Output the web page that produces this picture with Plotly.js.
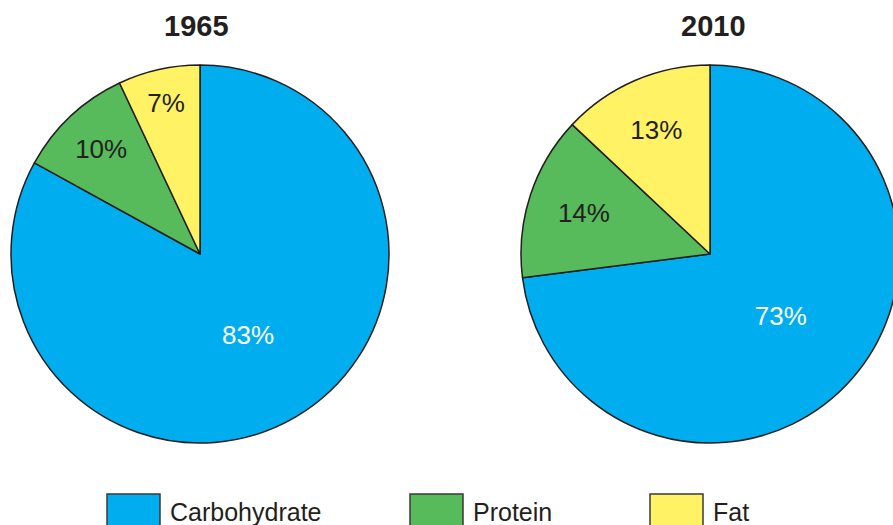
<!DOCTYPE html>
<html><head><meta charset="utf-8">
<script src="https://cdn.plot.ly/plotly-3.0.1.min.js"></script>
<style>html,body{margin:0;padding:0;overflow:hidden;background:#fff;width:893px;height:525px}</style>
</head><body><div id="chart"></div>
<script>
const categories = ['Carbohydrate', 'Protein', 'Fat'];
const years = ['1965', '2010'];
const values1965 = [83, 10, 7];
const values2010 = [73, 14, 13];
const colors = ['#00AEEF', '#57BA5B', '#FFF264'];
const textColors = ['#ffffff', '#231F20', '#231F20'];

const FONT = 'Liberation Sans, Arial, sans-serif';
const W = 920, H = 525;
const px = v => v / W;
const py = v => 1 - v / H;

function pieTrace(vals, x0, x1) {
  return {
    type: 'pie', labels: categories, values: vals, sort: false,
    direction: 'clockwise', rotation: 0,
    marker: {colors: colors, line: {color: '#231F20', width: 1.5}},
    textinfo: 'percent', texttemplate: '%{value}%', textposition: 'inside',
    insidetextorientation: 'horizontal',
    insidetextfont: {family: FONT, size: 26, color: textColors},
    domain: {x: [px(x0), px(x1)], y: [py(443), py(65)]},
    hoverinfo: 'label+percent', showlegend: false
  };
}

const data = [pieTrace(values1965, 11, 389), pieTrace(values2010, 521, 899)];

const annotations = [
  {text: '<b>' + years[0] + '</b>', x: px(196), y: py(26)},
  {text: '<b>' + years[1] + '</b>', x: px(713), y: py(26)}
].map(a => Object.assign(a, {xref: 'paper', yref: 'paper', showarrow: false, xanchor: 'center', yanchor: 'middle',
  font: {family: FONT, size: 29, color: '#231F20'}}));

const legX = [107, 410, 650];
const shapes = [];
categories.forEach((c, i) => {
  shapes.push({type: 'rect', xref: 'paper', yref: 'paper', x0: px(legX[i]), x1: px(legX[i] + 53),
    y0: py(494), y1: py(540), fillcolor: colors[i], line: {color: '#3a3a3a', width: 1.5}});
  annotations.push({text: c, xref: 'paper', yref: 'paper', x: px(legX[i] + 61), y: py(512),
    xanchor: 'left', yanchor: 'middle', showarrow: false,
    font: {family: FONT, size: 25, color: '#231F20'}});
});

Plotly.newPlot('chart', data, {
  width: W, height: H, margin: {l: 0, r: 0, t: 0, b: 0},
  paper_bgcolor: '#fff', plot_bgcolor: '#fff',
  annotations: annotations, shapes: shapes, showlegend: false
}, {displayModeBar: false, staticPlot: true});
</script></body></html>
